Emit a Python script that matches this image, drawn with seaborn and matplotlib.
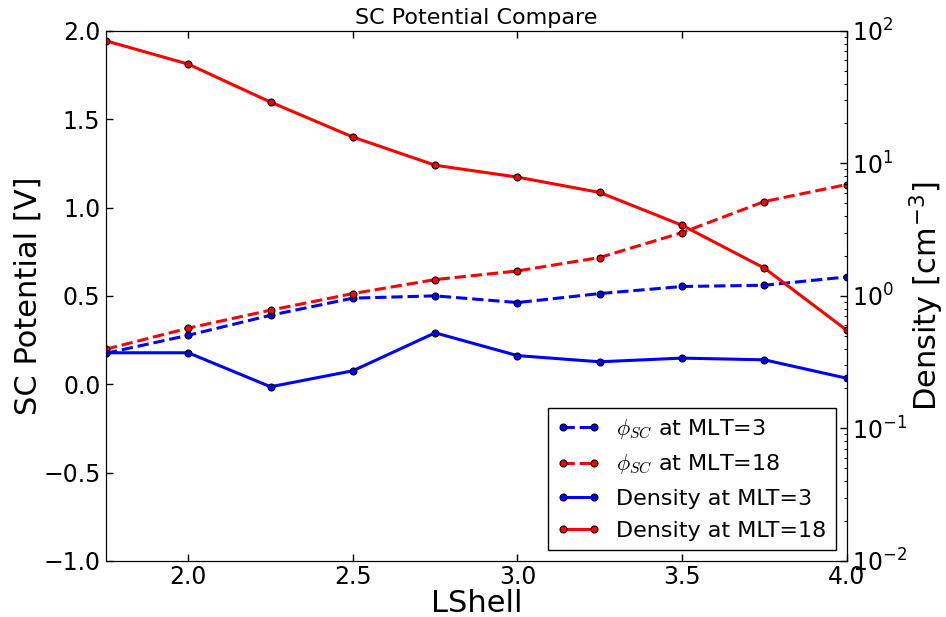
import numpy as np
import pandas as pd
import matplotlib
matplotlib.use("Agg")
import matplotlib.pyplot as plt
import seaborn as sns

# ---- data ----
lshell = [1.75, 2.0, 2.25, 2.5, 2.75, 3.0, 3.25, 3.5, 3.75, 4.0]
phi_mlt3 = [0.175, 0.277, 0.39, 0.487, 0.50, 0.462, 0.513, 0.553, 0.56, 0.607]
phi_mlt18 = [0.198, 0.317, 0.419, 0.513, 0.592, 0.641, 0.717, 0.858, 1.034, 1.13]
dens_mlt3 = [0.372, 0.372, 0.206, 0.272, 0.526, 0.354, 0.318, 0.339, 0.329, 0.239]
dens_mlt18 = [84.1, 56.1, 29.0, 15.8, 9.68, 7.87, 6.03, 3.41, 1.62, 0.551]

labels = [r"$\phi_{SC}$ at MLT=3", r"$\phi_{SC}$ at MLT=18",
          "Density at MLT=3", "Density at MLT=18"]
left_ticks = [-1.0, -0.5, 0.0, 0.5, 1.0, 1.5, 2.0]
x_ticks = [2.0, 2.5, 3.0, 3.5, 4.0]

sns.set_style("ticks", rc={
    "xtick.direction": "in", "ytick.direction": "in",
    "axes.edgecolor": "black", "axes.linewidth": 1.0,
    "text.color": "black", "axes.labelcolor": "black",
    "xtick.color": "black", "ytick.color": "black",
})
plt.rcParams["font.family"] = ["DejaVu Sans"]
plt.rcParams["mathtext.fontset"] = "cm"

fig = plt.figure(figsize=(9.46, 6.17), dpi=100)
ax = fig.add_axes([0.112, 0.091, 0.783, 0.859])
ax2 = ax.twinx()

common = dict(marker="o", markersize=5, mec="k", mew=0.8, lw=2.2)
sns.lineplot(x=lshell, y=phi_mlt3, ax=ax, color="#0000ff", linestyle="--",
             label=labels[0], **common)
sns.lineplot(x=lshell, y=phi_mlt18, ax=ax, color="#ff0000", linestyle="--",
             label=labels[1], **common)
sns.lineplot(x=lshell, y=dens_mlt3, ax=ax2, color="#0000ff", linestyle="-",
             label=labels[2], **common)
sns.lineplot(x=lshell, y=dens_mlt18, ax=ax2, color="#ff0000", linestyle="-",
             label=labels[3], **common)

for a in (ax, ax2):
    lg = a.get_legend()
    if lg is not None:
        lg.remove()

ax.set_xlim(1.75, 4.0)
ax.set_ylim(-1.0, 2.0)
ax.set_xticks(x_ticks)
ax.set_yticks(left_ticks)
ax.tick_params(axis="both", which="major", labelsize=17, length=5, width=1,
               direction="in", top=True, right=False, pad=4)
ax.tick_params(axis="x", pad=3)
ax.set_xlabel("LShell", fontsize=22, labelpad=0)
ax.set_ylabel("SC Potential [V]", fontsize=22, labelpad=0)
ax.set_title("SC Potential Compare", fontsize=16, pad=5)

ax2.set_yscale("log")
ax2.set_ylim(1e-2, 1e2)
ax2.tick_params(axis="y", which="major", labelsize=17, length=5, width=1,
                direction="in", pad=4)
ax2.tick_params(axis="y", which="minor", length=2.5, width=0.8, direction="in")
ax2.set_ylabel(r"Density [cm$^{\mathdefault{-3}}$]", fontsize=22, labelpad=0)

for a in (ax, ax2):
    for s in a.spines.values():
        s.set_visible(True)
        s.set_color("black")

h1, l1 = ax.get_legend_handles_labels()
h2, l2 = ax2.get_legend_handles_labels()
leg = ax2.legend(h1 + h2, l1 + l2, loc="lower right", fontsize=16,
                 frameon=True, fancybox=False, edgecolor="black",
                 framealpha=1, numpoints=2, handlelength=2.0,
                 handletextpad=0.7, labelspacing=0.55, borderpad=0.4,
                 borderaxespad=0.5)
leg.get_frame().set_linewidth(1.0)

fig.savefig("out.png", dpi=100)
